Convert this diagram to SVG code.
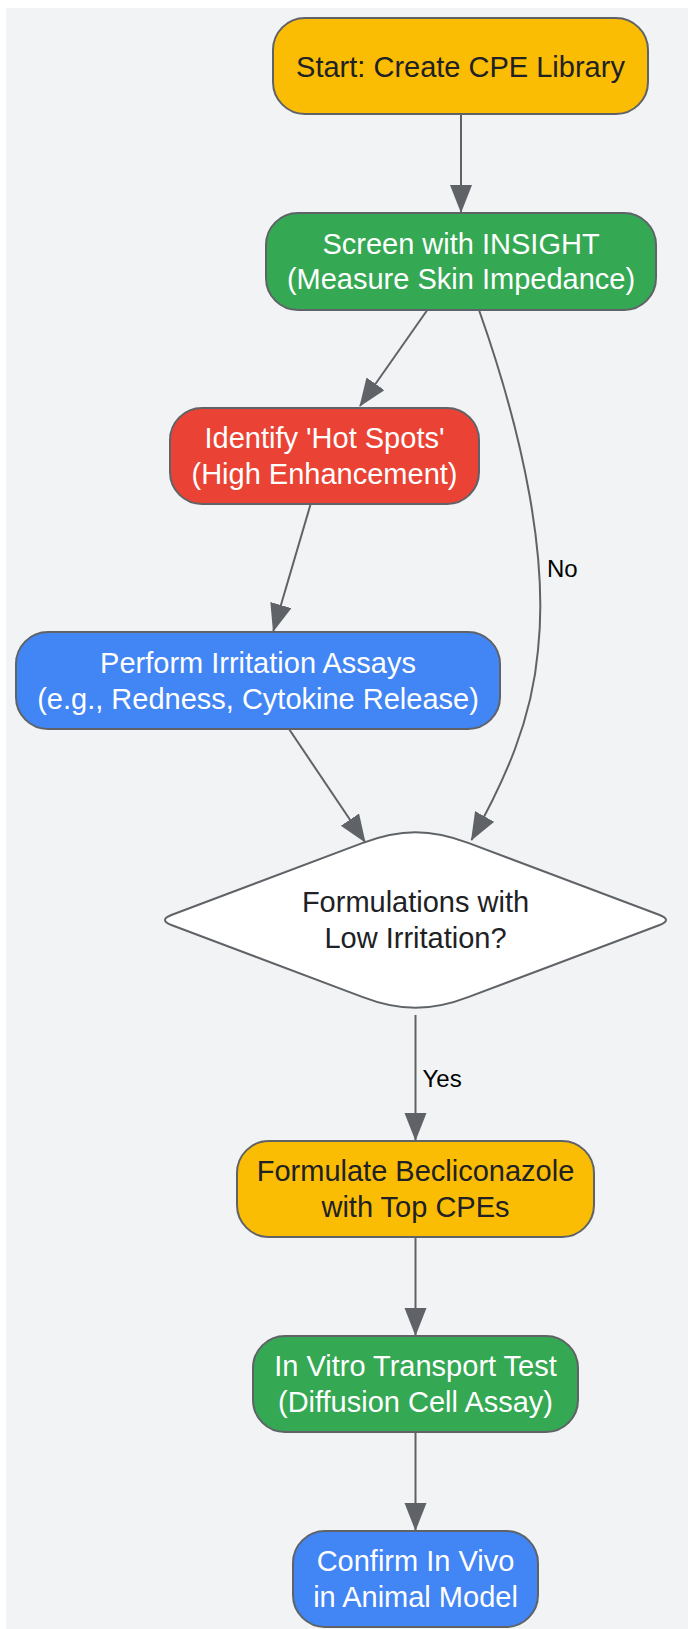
<svg xmlns="http://www.w3.org/2000/svg" width="688" height="1629" viewBox="0 0 688 1629">
<style>
.node rect, .node path { stroke: #5F6368; stroke-width: 2; }
.t { font-family: "Liberation Sans", Arial, sans-serif; font-size: 29px; text-anchor: middle; }
.dark { fill: #202124; }
.light { fill: #FFFFFF; }
.edge { fill: none; stroke: #5F6368; stroke-width: 2; marker-end: url(#arrow); }
.lbl { font-family: "Liberation Sans", Arial, sans-serif; font-size: 24px; fill: #000000; }
.yellow { fill: #FBBC04; }
.green { fill: #34A853; }
.red { fill: #EA4335; }
.blue { fill: #4285F4; }
</style>
<defs>
<marker id="arrow" markerUnits="userSpaceOnUse" markerWidth="30" markerHeight="24" refX="27" refY="11" orient="auto">
<path d="M0,0 L28,11 L0,22 Z" fill="#5F6368"/>
</marker>
</defs>
<rect x="6" y="8" width="682" height="1621" fill="#F1F3F4"/>
<g id="connectors">
<path class="edge" d="M461,115 L461,212"/>
<path class="edge" d="M427.3,310 L360,406"/>
<path class="edge" d="M310.5,504.5 L273.3,631"/>
<path class="edge" d="M289,729 L365,842"/>
<path class="edge" d="M479,310 C525,440 548,560 538,650 C532,720 505,780 471.5,840"/>
<path class="edge" d="M415.5,1015 L415.5,1140"/>
<path class="edge" d="M415.5,1237 L415.5,1335"/>
<path class="edge" d="M415.5,1432 L415.5,1530"/>
<text class="lbl" x="547" y="577">No</text>
<text class="lbl" x="422.5" y="1087">Yes</text>
</g>
<g id="start" class="node">
<rect class="yellow" x="273" y="18" width="375" height="96" rx="32"/>
<text class="t dark" x="460.5" y="77">Start: Create CPE Library</text>
</g>
<g id="screen" class="node">
<rect class="green" x="266" y="213" width="390" height="97" rx="32"/>
<text class="t light" x="461" y="253.5">Screen with INSIGHT</text>
<text class="t light" x="461" y="289">(Measure Skin Impedance)</text>
</g>
<g id="identify" class="node">
<rect class="red" x="170" y="408" width="309" height="96" rx="32"/>
<text class="t light" x="324.5" y="448">Identify 'Hot Spots'</text>
<text class="t light" x="324.5" y="484">(High Enhancement)</text>
</g>
<g id="perform" class="node">
<rect class="blue" x="16" y="632" width="484" height="97" rx="32"/>
<text class="t light" x="258" y="672.5">Perform Irritation Assays</text>
<text class="t light" x="258" y="708.5">(e.g., Redness, Cytokine Release)</text>
</g>
<g id="decision" class="node">
<path fill="#FFFFFF" d="M362.2,843.1 C400,828.5 431,828.5 468.8,843.1 L659,914.7 Q673,920 659,925.3 L468.8,996.9 C431,1011.5 400,1011.5 362.2,996.9 L172,925.3 Q158,920 172,914.7 Z"/>
<text class="t dark" x="415.5" y="912.3">Formulations with</text>
<text class="t dark" x="415.5" y="948.3">Low Irritation?</text>
</g>
<g id="formulate" class="node">
<rect class="yellow" x="237" y="1141" width="357" height="96" rx="32"/>
<text class="t dark" x="415.5" y="1181">Formulate Becliconazole</text>
<text class="t dark" x="415.5" y="1217">with Top CPEs</text>
</g>
<g id="invitro" class="node">
<rect class="green" x="253" y="1336" width="325" height="96" rx="32"/>
<text class="t light" x="415.5" y="1376">In Vitro Transport Test</text>
<text class="t light" x="415.5" y="1412">(Diffusion Cell Assay)</text>
</g>
<g id="confirm" class="node">
<rect class="blue" x="293" y="1531" width="245" height="96" rx="32"/>
<text class="t light" x="415.5" y="1571">Confirm In Vivo</text>
<text class="t light" x="415.5" y="1607">in Animal Model</text>
</g>
</svg>
